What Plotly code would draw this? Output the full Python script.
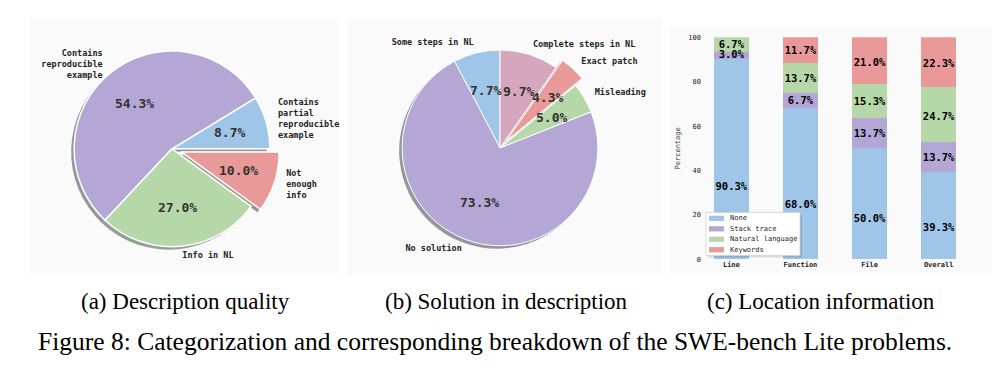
import numpy as np
import plotly.graph_objects as go

# ---------------- data ----------------
desc_labels = ["Contains<br>partial<br>reproducible<br>example", "Contains<br>reproducible<br>example",
               "Info in NL", "Not<br>enough<br>info"]
desc_values = [8.7, 54.3, 27.0, 10.0]
desc_explode = [0, 0, 0, 0.1]

sol_labels = ["Some steps in NL", "No solution", "Misleading", "Exact patch", "Complete steps in NL"]
sol_values = [7.7, 73.3, 5.0, 4.3, 9.7]
sol_explode = [0, 0, 0, 0.1, 0]

loc_categories = ["Line", "Function", "File", "Overall"]
loc_series = ["None", "Stack trace", "Natural language", "Keywords"]
loc_none = [90.3, 68.0, 50.0, 39.3]
loc_stack = [3.0, 6.7, 13.7, 13.7]
loc_nl = [6.7, 13.7, 15.3, 24.7]
loc_keywords = [0.0, 11.7, 21.0, 22.3]
y_ticks = [0, 20, 40, 60, 80, 100]

captions = ["(a) Description quality", "(b) Solution in description", "(c) Location information"]
main_caption = "Figure 8: Categorization and corresponding breakdown of the SWE-bench Lite problems."

# ---------------- style ----------------
BLUE, PURPLE, GREEN, RED, PINK = "#9fc5e8", "#b4a7d6", "#b6d7a8", "#ea9999", "#d5a6bd"
desc_colors = [BLUE, PURPLE, GREEN, RED]
sol_colors = [BLUE, PURPLE, GREEN, RED, PINK]
loc_colors = [BLUE, PURPLE, GREEN, RED]
MONO = "DejaVu Sans Mono"
SERIF = "Liberation Serif"
W, H = 994, 376
PANEL = "#fafafa"


def px(x):
    return x / W


def py(y):
    return 1 - y / H


def shadow_color(hexc):
    r, g, b = (int(hexc[i:i + 2], 16) for i in (1, 3, 5))
    return "rgb(%d,%d,%d)" % tuple(int(0.15 * c + 0.5 * 250) for c in (r, g, b))


fig = go.Figure()

# panel backgrounds
for x0, x1, y0, y1 in [(30, 339, 15, 277), (348, 662, 15, 277), (670, 992, 23, 277)]:
    fig.add_shape(type="rect", xref="paper", yref="paper", x0=px(x0), x1=px(x1), y0=py(y1), y1=py(y0),
                  fillcolor=PANEL, line=dict(width=0), layer="below")


def add_pie(values, colors, explode, labels, cx, cy, r, start, xa, ya, edge_w):
    maxpull = max(explode)
    half = r * (1 + maxpull)
    v = np.array(values, dtype=float)
    # plotly (counterclockwise) puts the first slice ending at `rotation` (clockwise from 12 o'clock)
    rot = 90 - start - 360 * v[0] / v.sum()
    sh = 3
    # shadow
    fig.add_trace(go.Pie(values=values, sort=False, direction="counterclockwise", rotation=rot,
                         pull=explode, marker=dict(colors=[shadow_color(c) for c in colors], line=dict(width=0)),
                         textinfo="none", hoverinfo="skip", showlegend=False,
                         domain=dict(x=[px(cx - half - sh), px(cx + half - sh)],
                                     y=[py(cy + half + sh), py(cy - half + sh)])))
    fig.add_trace(go.Pie(values=values, sort=False, direction="counterclockwise", rotation=rot,
                         pull=explode, marker=dict(colors=colors, line=dict(color="white", width=edge_w)),
                         textinfo="none", hoverinfo="skip", showlegend=False,
                         domain=dict(x=[px(cx - half), px(cx + half)], y=[py(cy + half), py(cy - half)])))
    # text positions from wedge angles (matplotlib-style labeldistance/pctdistance)
    mid = np.deg2rad(start + 360 * (np.cumsum(v) - v / 2) / v.sum())
    ex = np.array(explode, dtype=float)
    c, s = np.cos(mid), np.sin(mid)
    lab_r = 1.1 + ex
    pct_r = 0.6 + ex
    fig.add_trace(go.Scatter(x=c * lab_r, y=s * lab_r, mode="text", text=labels,
                             textposition=["middle left" if ci < 0 else "middle right" for ci in c],
                             textfont=dict(family=MONO, size=8.5, color="#222", weight="bold"),
                             hoverinfo="skip", showlegend=False, xaxis=xa, yaxis=ya, cliponaxis=False))
    for xi, yi, val in zip(c * pct_r, s * pct_r, values):
        fig.add_annotation(x=xi, y=yi, xref=xa, yref=ya, text="%.1f%%" % val, showarrow=False,
                           xanchor="center", yanchor="middle",
                           font=dict(family=MONO, size=13, color="#333", weight="bold"))
    ext = 1.3
    axis_x = dict(domain=[px(cx - ext * r), px(cx + ext * r)], range=[-ext, ext], visible=False, fixedrange=True)
    axis_y = dict(domain=[py(cy + ext * r), py(cy - ext * r)], range=[-ext, ext], visible=False, fixedrange=True)
    return axis_x, axis_y


ax2x, ax2y = add_pie(desc_values, desc_colors, desc_explode, desc_labels, 172, 148, 100, 0, "x2", "y2", 1.5)
ax3x, ax3y = add_pie(sol_values, sol_colors, sol_explode, sol_labels, 500, 147, 100, 90, "x3", "y3", 1.0)

# ---------------- stacked bars ----------------
series_vals = [loc_none, loc_stack, loc_nl, loc_keywords]
label_frac = [0.36, 0.45, 0.45, 0.45]
bottom = np.zeros(len(loc_categories))
lx, ly, lt = [], [], []
for name, vals, col, fr in zip(loc_series, series_vals, loc_colors, label_frac):
    fig.add_trace(go.Bar(x=loc_categories, y=vals, name=name, marker=dict(color=col, line=dict(width=0)),
                         width=0.5, hoverinfo="skip", showlegend=False, xaxis="x", yaxis="y"))
    for cat, b, val in zip(loc_categories, bottom, vals):
        if val > 0:
            lx.append(cat)
            ly.append(b + val * fr)
            lt.append("%.1f%%" % val)
    bottom = bottom + np.array(vals)
fig.add_trace(go.Scatter(x=lx, y=ly, text=lt, mode="text", textposition="middle center",
                         textfont=dict(family=MONO, size=10.5, color="black", weight="bold"),
                         hoverinfo="skip", showlegend=False, xaxis="x", yaxis="y", cliponaxis=False))

# compact legend (matplotlib style)
lg_x0, lg_y0, lg_x1, lg_y1 = 706, 213, 800, 257
fig.add_shape(type="rect", xref="paper", yref="paper", x0=px(lg_x0 + 2), x1=px(lg_x1 + 2), y0=py(lg_y1 + 2),
              y1=py(lg_y0 + 2), fillcolor="rgba(0,0,0,0.12)", line=dict(width=0))
fig.add_shape(type="rect", xref="paper", yref="paper", x0=px(lg_x0), x1=px(lg_x1), y0=py(lg_y1),
              y1=py(lg_y0), fillcolor="white", line=dict(color="#d0d0d0", width=0.8))
for i, (name, col) in enumerate(zip(loc_series, loc_colors)):
    yc = lg_y0 + 6 + i * 10.7
    fig.add_shape(type="rect", xref="paper", yref="paper", x0=px(709), x1=px(724), y0=py(yc + 2.7),
                  y1=py(yc - 2.7), fillcolor=col, line=dict(width=0))
    fig.add_annotation(x=px(728), y=py(yc), xref="paper", yref="paper", text=name, showarrow=False,
                       xanchor="left", yanchor="middle", font=dict(family=MONO, size=7, color="#222"))

# captions
for txt, xc in zip(captions, [185, 506, 821]):
    fig.add_annotation(x=px(xc), y=py(304), xref="paper", yref="paper", text=txt, showarrow=False,
                       xanchor="center", yanchor="middle", font=dict(family=SERIF, size=23, color="black"))
fig.add_annotation(x=px(495), y=py(345), xref="paper", yref="paper", text=main_caption, showarrow=False,
                   xanchor="center", yanchor="middle", font=dict(family=SERIF, size=25.5, color="black"))

fig.update_layout(
    width=W, height=H, margin=dict(l=0, r=0, t=0, b=0),
    paper_bgcolor="white", plot_bgcolor="rgba(0,0,0,0)", barmode="stack",
    xaxis=dict(domain=[px(702), px(968)], range=[-0.425, 3.425], showgrid=False, zeroline=False, showline=False,
               ticks="", tickfont=dict(family=MONO, size=7, color="#222", weight="bold"), fixedrange=True),
    yaxis=dict(domain=[py(261), py(34)], range=[0, 100], tickvals=y_ticks, showgrid=False, zeroline=False,
               showline=False, ticks="", tickfont=dict(family=MONO, size=7, color="#222"),
               title=dict(text="Percentage", font=dict(family=MONO, size=7, color="#333"), standoff=6),
               fixedrange=True),
    xaxis2=dict(ax2x, anchor="y2"), yaxis2=dict(ax2y, anchor="x2"),
    xaxis3=dict(ax3x, anchor="y3"), yaxis3=dict(ax3y, anchor="x3"),
)

fig.write_html("out.html", config={"displayModeBar": False},
               post_script="document.body.style.margin='0';document.body.style.overflow='hidden';")
